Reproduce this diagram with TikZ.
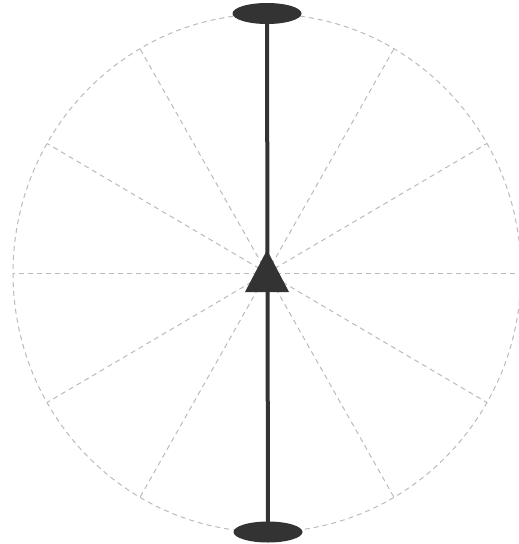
\documentclass[tikz,border=0pt]{standalone}
\usetikzlibrary{shapes.geometric,calc}
\definecolor{darkline}{HTML}{333333}
\definecolor{guide}{HTML}{BBBBBB}
\tikzset{
  guideline/.style={draw=guide, line width=1pt, dash pattern=on 5pt off 4pt},
  capshape/.style={ellipse, fill=darkline, draw=none, minimum width=69pt, minimum height=21pt, inner sep=0pt},
  axisline/.style={draw=darkline, line width=4pt},
}
\begin{document}
\begin{tikzpicture}[x=1pt,y=-1pt]
\useasboundingbox[fill=white] (0,0) rectangle (519,544);
\coordinate (c) at (267,273);
% dashed outline and spokes
\draw[guideline] (c) ellipse [x radius=254, y radius=259];
\foreach \a in {0,30,60,120,150,180,210,240,300,330}{
  \draw[guideline] (c) -- ($(c)+({254*cos(\a)},{-259*sin(\a)})$);
}
% caps and axis
\node[capshape] (top) at (267,13.5) {};
\node[capshape] (bot) at (268,532) {};
\draw[axisline] (top.center) -- (bot.center);
% triangle
\fill[darkline] (267,250) -- (289,292) -- (245,292) -- cycle;
\end{tikzpicture}
\end{document}
